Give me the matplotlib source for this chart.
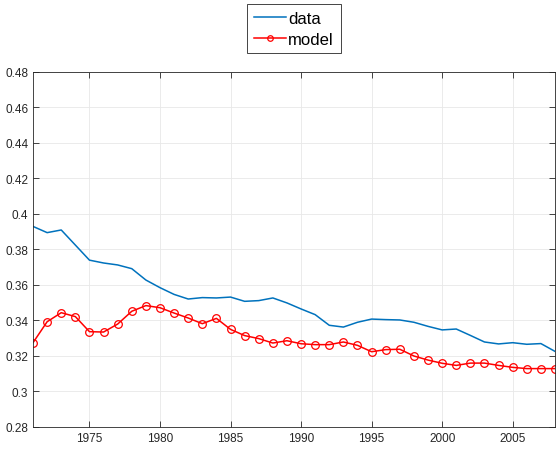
import matplotlib.pyplot as plt
import numpy as np

plt.rcParams['font.family'] = ['Liberation Sans', 'DejaVu Sans']

years = np.arange(1971, 2009)

data = [0.3930, 0.3895, 0.3910, 0.3825, 0.3740, 0.3724, 0.3713, 0.3692,
        0.3628, 0.3585, 0.3547, 0.3521, 0.3529, 0.3527, 0.3532, 0.3508,
        0.3512, 0.3527, 0.3499, 0.3465, 0.3433, 0.3373, 0.3363, 0.3390,
        0.3408, 0.3405, 0.3403, 0.3390, 0.3367, 0.3347, 0.3352, 0.3316,
        0.3279, 0.3268, 0.3275, 0.3266, 0.3270, 0.3226]

model = [0.3275, 0.3393, 0.3444, 0.3422, 0.3337, 0.3335, 0.3380, 0.3452,
         0.3484, 0.3472, 0.3442, 0.3414, 0.3382, 0.3412, 0.3350, 0.3315,
         0.3298, 0.3273, 0.3286, 0.3269, 0.3264, 0.3264, 0.3279, 0.3260,
         0.3224, 0.3236, 0.3238, 0.3200, 0.3177, 0.3159, 0.3147, 0.3160,
         0.3160, 0.3147, 0.3136, 0.3129, 0.3129, 0.3129]

xticks = [1975, 1980, 1985, 1990, 1995, 2000, 2005]
yticks = np.arange(0.28, 0.481, 0.02)

fig = plt.figure(figsize=(5.56, 4.52), dpi=100)
ax = fig.add_axes([0.0594, 0.0531, 0.9388, 0.7854])

ax.plot(years, data, color='#0072BD', lw=1.1, label='data')
ax.plot(years, model, color='#FF0000', lw=1.1, marker='o', ms=5.5,
        mfc='none', mew=0.9, label='model')

ax.set_xlim(1971, 2008)
ax.set_ylim(0.28, 0.48)
ax.set_xticks(xticks)
ax.set_yticks(yticks)
ax.set_yticklabels(['%g' % round(v, 2) for v in yticks])

ax.grid(True, color='#E8E8E8', lw=0.6)
ax.set_axisbelow(True)
for s in ax.spines.values():
    s.set_color('#262626')
    s.set_linewidth(0.6)
ax.tick_params(direction='in', length=4, width=0.6, top=True, right=True,
               colors='#262626', labelsize=8.5, labelcolor='#262626')

leg = ax.legend(loc='lower center', bbox_to_anchor=(0.5, 1.053),
                fontsize=12, fancybox=False, edgecolor='#262626',
                framealpha=1, handlelength=1.9, borderpad=0.4,
                labelspacing=0.35, handletextpad=0.15, borderaxespad=0)
leg.get_frame().set_linewidth(0.6)
leg.legend_handles[1].set_markersize(4)

fig.savefig('out.png', dpi=100)
